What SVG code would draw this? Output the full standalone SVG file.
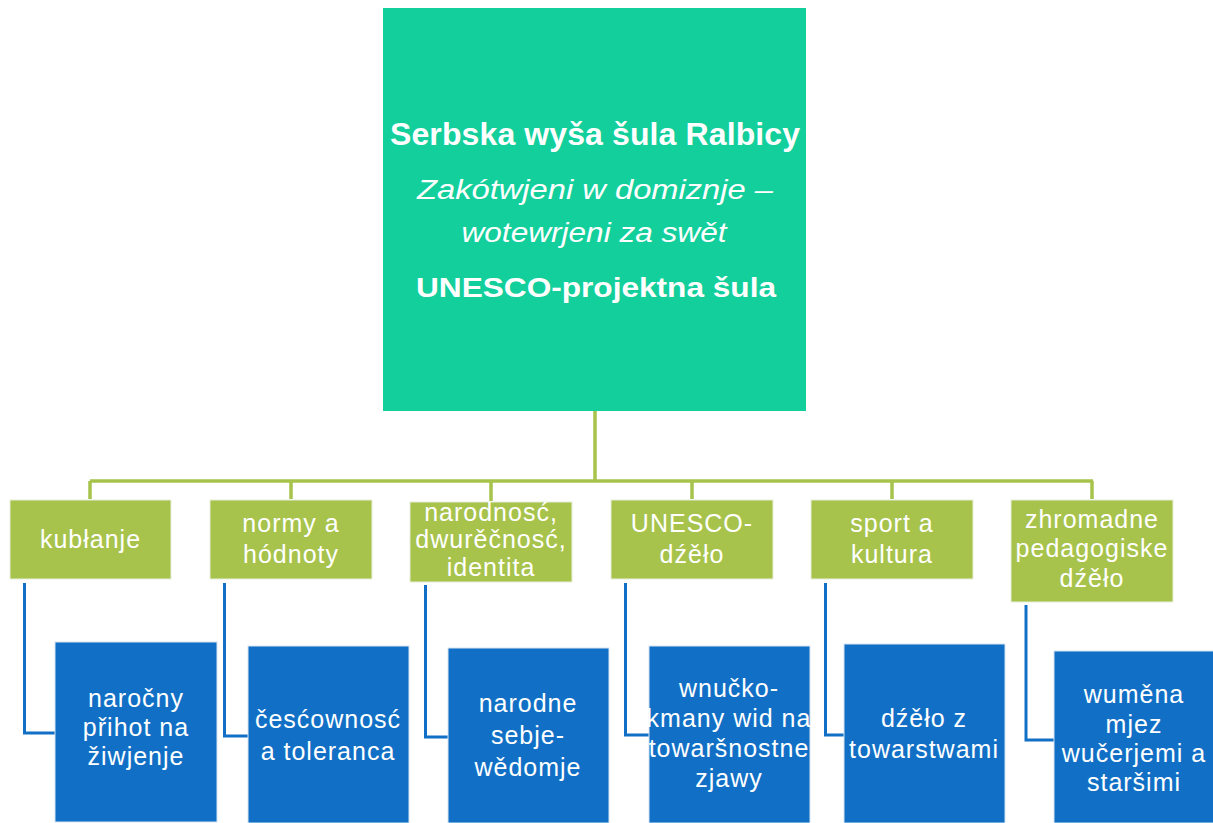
<svg xmlns="http://www.w3.org/2000/svg" width="1213" height="823" viewBox="0 0 1213 823">
<style>
.top{fill:#13CF9C}
.grn{fill:#A7C34B;stroke:#E6EEDC;stroke-width:1}
.blu{fill:#1170C6;stroke:#D6E4F2;stroke-width:1}
.gl{fill:none;stroke:#A7C34B;stroke-width:3.5}
.bl{fill:none;stroke:#1170C6;stroke-width:3}
.t{fill:#FFFFFF;font-family:"Liberation Sans",Arial,sans-serif;font-size:25px;letter-spacing:1px;text-anchor:middle}
.h{fill:#FFFFFF;font-family:"Liberation Sans",Arial,sans-serif;text-anchor:middle}
</style>
<rect width="1213" height="823" fill="#FFFFFF"/>
<g id="connectors">
<path class="gl" d="M595,411 V481 M90,481 H1093 M90,481 V499 M291,481 V499 M491,481 V501 M692,481 V499 M892,481 V499 M1092,481 V499"/>
<path class="bl" d="M24.5,583 V733 H55"/>
<path class="bl" d="M224.5,583 V736 H248"/>
<path class="bl" d="M425.5,585 V737 H448"/>
<path class="bl" d="M625.5,583 V735 H649"/>
<path class="bl" d="M825.5,583 V735 H844"/>
<path class="bl" d="M1026,605 V740 H1054"/>
</g>
<g id="root">
<rect class="top" x="383" y="8" width="423" height="403"/>
<text class="h" x="595" y="145" font-size="32" font-weight="bold" textLength="410">Serbska wyša šula Ralbicy</text>
<text class="h" x="595" y="199" font-size="27" font-style="italic" textLength="356" lengthAdjust="spacingAndGlyphs">Zakótwjeni w domiznje –</text>
<text class="h" x="594" y="242" font-size="27" font-style="italic" textLength="265" lengthAdjust="spacingAndGlyphs">wotewrjeni za swět</text>
<text class="h" x="596" y="297" font-size="27" font-weight="bold" textLength="360" lengthAdjust="spacingAndGlyphs">UNESCO-projektna šula</text>
</g>
<g id="g1"><rect class="grn" x="10" y="500" width="161" height="79"/><text class="t" x="90.5" y="548">kubłanje</text></g>
<g id="g2"><rect class="grn" x="210" y="500" width="162" height="79"/><text class="t" x="291" y="532">normy a</text><text class="t" x="291" y="563">hódnoty</text></g>
<g id="g3"><rect class="grn" x="410" y="502" width="162" height="80"/><text class="t" x="491" y="521" font-size="23">narodnosć,</text><text class="t" x="491" y="548" font-size="23">dwurěčnosć,</text><text class="t" x="491" y="576" font-size="23">identita</text></g>
<g id="g4"><rect class="grn" x="611" y="500" width="162" height="79"/><text class="t" x="692" y="532">UNESCO-</text><text class="t" x="692" y="563">dźěło</text></g>
<g id="g5"><rect class="grn" x="811" y="500" width="162" height="79"/><text class="t" x="892" y="532">sport a</text><text class="t" x="892" y="563">kultura</text></g>
<g id="g6"><rect class="grn" x="1011" y="500" width="162" height="102"/><text class="t" x="1092" y="528" font-size="24">zhromadne</text><text class="t" x="1092" y="557" font-size="24">pedagogiske</text><text class="t" x="1092" y="587" font-size="24">dźěło</text></g>
<g id="b1"><rect class="blu" x="55" y="642" width="162" height="180"/><text class="t" x="136" y="707" font-size="24">naročny</text><text class="t" x="136" y="736" font-size="24">přihot na</text><text class="t" x="136" y="765" font-size="24">žiwjenje</text></g>
<g id="b2"><rect class="blu" x="248" y="646" width="161" height="177"/><text class="t" x="328" y="728">česćownosć</text><text class="t" x="328" y="760">a toleranca</text></g>
<g id="b3"><rect class="blu" x="448" y="648" width="161" height="175"/><text class="t" x="528" y="712">narodne</text><text class="t" x="528" y="744">sebje-</text><text class="t" x="528" y="776">wědomje</text></g>
<g id="b4"><rect class="blu" x="649" y="646" width="161" height="177"/><text class="t" x="729" y="697" font-size="24">wnučko-</text><text class="t" x="729" y="727" font-size="24">kmany wid na</text><text class="t" x="729" y="757" font-size="24">towaršnostne</text><text class="t" x="729" y="787" font-size="24">zjawy</text></g>
<g id="b5"><rect class="blu" x="844" y="644" width="161" height="179"/><text class="t" x="924" y="727">dźěło z</text><text class="t" x="924" y="758">towarstwami</text></g>
<g id="b6"><rect class="blu" x="1054" y="651" width="162" height="172"/><text class="t" x="1134" y="703" font-size="24">wuměna</text><text class="t" x="1134" y="733" font-size="24">mjez</text><text class="t" x="1134" y="762" font-size="24">wučerjemi a</text><text class="t" x="1134" y="791" font-size="24">staršimi</text></g>
</svg>
